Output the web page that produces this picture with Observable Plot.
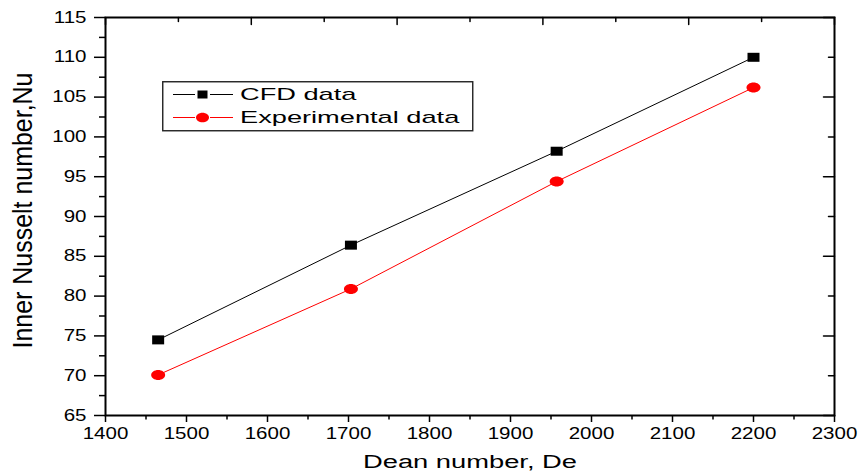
<!DOCTYPE html>
<html><head><meta charset="utf-8">
<script src="https://cdn.jsdelivr.net/npm/d3@7"></script>
<script src="https://cdn.jsdelivr.net/npm/@observablehq/plot@0.6"></script>
<style>
html,body{margin:0;padding:0;background:#fff;}
#wrap{position:relative;width:859px;height:474px;font-family:"Liberation Sans",Arial,sans-serif;}
#legend{position:absolute;left:162px;top:81px;}
</style></head><body><div id="wrap"></div>
<script>
// ---- data ----
const deanNumbers = [1465, 1703, 1957, 2200];
const cfdNu = [74.5, 86.4, 98.2, 110.0];
const expNu = [70.1, 80.9, 94.4, 106.2];
const seriesNames = ["CFD data", "Experimental data"];
const seriesColors = ["black", "red"];
const xTitle = "Dean number, De";
const yTitle = "Inner Nusselt number,Nu";
const xTicks = [1400, 1500, 1600, 1700, 1800, 1900, 2000, 2100, 2200, 2300];
const xMinorTicks = [1450, 1550, 1650, 1750, 1850, 1950, 2050, 2150, 2250];
const yTicks = [65, 70, 75, 80, 85, 90, 95, 100, 105, 110, 115];
const yMinorTicks = [67.5, 72.5, 77.5, 82.5, 87.5, 92.5, 97.5, 102.5, 107.5, 112.5];
const xTopMajor = [1400, 1580, 1760, 1940, 2120, 2300];
const xTopMinor = [1490, 1670, 1850, 2030, 2210];
const yRightMajor = [65, 75, 85, 95, 105, 115];
const yRightMinor = [70, 80, 90, 100, 110];

const cfdRows = deanNumbers.map((de, i) => ({de, nu: cfdNu[i], series: seriesNames[0]}));
const expRows = deanNumbers.map((de, i) => ({de, nu: expNu[i], series: seriesNames[1]}));

// ---- symbols ----
function squareSym(w, h) {
  return {draw(ctx) { ctx.moveTo(-w/2, -h/2); ctx.lineTo(w/2, -h/2); ctx.lineTo(w/2, h/2); ctx.lineTo(-w/2, h/2); ctx.closePath(); }};
}
function ellipseSym(a, b) {
  const k = 0.5523;
  return {draw(ctx) {
    ctx.moveTo(a, 0);
    ctx.bezierCurveTo(a, b*k, a*k, b, 0, b);
    ctx.bezierCurveTo(-a*k, b, -a, b*k, -a, 0);
    ctx.bezierCurveTo(-a, -b*k, -a*k, -b, 0, -b);
    ctx.bezierCurveTo(a*k, -b, a, -b*k, a, 0);
    ctx.closePath();
  }};
}
const tickShape = {draw(ctx, l) { ctx.moveTo(0, 0); ctx.lineTo(0, -l); }};
const symbols = [squareSym(12, 9), ellipseSym(7, 5)];

const font = "Liberation Sans, Arial, sans-serif";
const chart = Plot.plot({
  width: 859, height: 474,
  marginLeft: 105, marginRight: 25, marginTop: 17, marginBottom: 59,
  style: {fontFamily: font, fontSize: "16px", background: "white", color: "black", overflow: "visible"},
  x: {domain: [1400, 2300]},
  y: {domain: [65, 115]},
  marks: [
    Plot.line(cfdRows, {x: "de", y: "nu", stroke: seriesColors[0], strokeWidth: 1}),
    Plot.line(expRows, {x: "de", y: "nu", stroke: seriesColors[1], strokeWidth: 1}),
    Plot.dot(cfdRows, {x: "de", y: "nu", symbol: symbols[0], fill: seriesColors[0], stroke: "none"}),
    Plot.dot(expRows, {x: "de", y: "nu", symbol: symbols[1], fill: seriesColors[1], stroke: "none"}),
    Plot.axisX(xTicks, {anchor: "bottom", tickSize: 7, tickPadding: 5, tickFormat: d => String(d), fontSize: 16, strokeWidth: 1.5, label: null}),
    Plot.axisX(xMinorTicks, {anchor: "bottom", tickSize: 4.5, tickFormat: () => "", strokeWidth: 1.5, label: null}),
    Plot.axisY(yTicks, {anchor: "left", tickSize: 11, tickPadding: 8, tickFormat: d => String(d), fontSize: 16, strokeWidth: 1.5, label: null}),
    Plot.axisY(yMinorTicks, {anchor: "left", tickSize: 6, tickFormat: () => "", strokeWidth: 1.5, label: null}),
    Plot.vector(xTopMajor, {x: d => d, frameAnchor: "top", length: 7, rotate: 180, anchor: "start", shape: tickShape, strokeWidth: 1.5, stroke: "black"}),
    Plot.vector(xTopMinor, {x: d => d, frameAnchor: "top", length: 4, rotate: 180, anchor: "start", shape: tickShape, strokeWidth: 1.5, stroke: "black"}),
    Plot.vector(yRightMajor, {y: d => d, frameAnchor: "right", length: 11, rotate: -90, anchor: "start", shape: tickShape, strokeWidth: 1.5, stroke: "black"}),
    Plot.vector(yRightMinor, {y: d => d, frameAnchor: "right", length: 6, rotate: -90, anchor: "start", shape: tickShape, strokeWidth: 1.5, stroke: "black"}),
    Plot.frame({stroke: "black", strokeWidth: 2}),
    Plot.text([xTitle], {frameAnchor: "bottom", dy: 40, lineAnchor: "top", textAnchor: "middle", fontSize: 18, fill: "black"}),
    Plot.text([yTitle], {frameAnchor: "left", rotate: -90, dx: -93, dy: -6, lineAnchor: "top", textAnchor: "middle", fontSize: 27, fill: "black"})
  ]
});
const wrap = document.getElementById("wrap");
wrap.appendChild(chart);

function stretch(el, f) {
  const w = el.getComputedTextLength();
  if (w > 0) { el.setAttribute("textLength", (w * f).toFixed(1)); el.setAttribute("lengthAdjust", "spacingAndGlyphs"); }
}
function stretchTo(el, target) {
  const w = el.getComputedTextLength();
  if (w > 0) { el.setAttribute("textLength", target); el.setAttribute("lengthAdjust", "spacingAndGlyphs"); }
}
d3.select(chart).selectAll('g[aria-label="x-axis tick label"] text, g[aria-label="y-axis tick label"] text').each(function() { stretch(this, 1.28); });
d3.select(chart).selectAll("text").each(function() {
  if (this.textContent === xTitle) stretchTo(this, 214);
  if (this.textContent === yTitle) stretchTo(this, 276);
});

// ---- legend ----
const lg = d3.select(wrap).append("svg").attr("id", "legend").attr("width", 312).attr("height", 51)
  .style("font-family", font);
lg.append("rect").attr("x", 0.75).attr("y", 0.75).attr("width", 310).attr("height", 49)
  .attr("fill", "white").attr("stroke", "#222").attr("stroke-width", 1.4);
const rowY = [13, 36];
const legendSymbols = [squareSym(10, 8), ellipseSym(6.5, 4.8)];
seriesNames.forEach((name, i) => {
  const g = lg.append("g").attr("transform", `translate(0,${rowY[i]})`);
  g.append("line").attr("x1", 11).attr("x2", 33).attr("y1", 0.5).attr("y2", 0.5).attr("stroke", seriesColors[i]).attr("stroke-width", 1);
  g.append("line").attr("x1", 48).attr("x2", 71).attr("y1", 0.5).attr("y2", 0.5).attr("stroke", seriesColors[i]).attr("stroke-width", 1);
  const p = d3.path(); legendSymbols[i].draw(p);
  g.append("path").attr("d", p.toString()).attr("transform", "translate(40.5,0.5)").attr("fill", seriesColors[i]);
  const t = g.append("text").attr("x", 78).attr("y", 6).attr("font-size", 17).attr("fill", "black").text(name);
  stretch(t.node(), 1.6);
});
</script></body></html>
